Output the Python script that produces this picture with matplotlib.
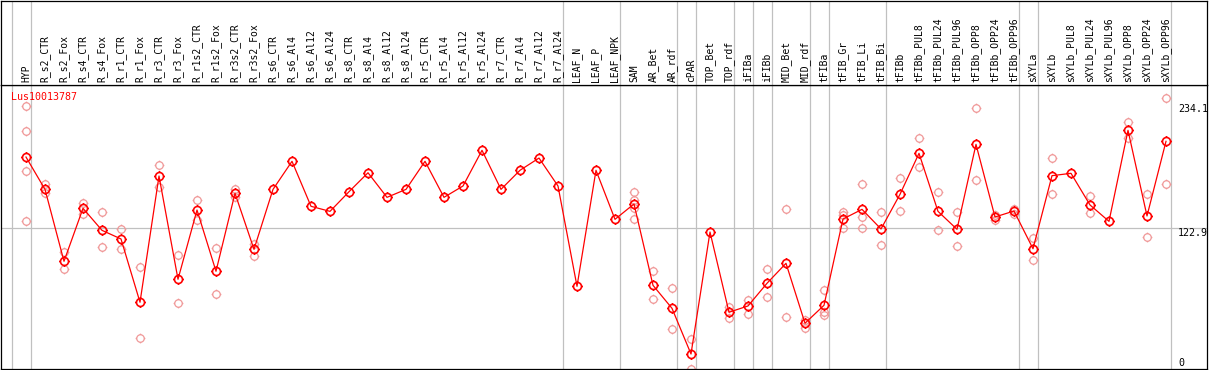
import numpy as np
import matplotlib
matplotlib.use("Agg")
import matplotlib.pyplot as plt
from matplotlib.path import Path
import matplotlib.transforms as mtransforms

samples = [
    "HYP", "R_s2_CTR", "R_s2_Fox", "R_s4_CTR", "R_s4_Fox", "R_r1_CTR", "R_r1_Fox",
    "R_r3_CTR", "R_r3_Fox", "R_r1s2_CTR", "R_r1s2_Fox", "R_r3s2_CTR", "R_r3s2_Fox",
    "R_s6_CTR", "R_s6_Al4", "R_s6_Al12", "R_s6_Al24", "R_s8_CTR", "R_s8_Al4",
    "R_s8_Al12", "R_s8_Al24", "R_r5_CTR", "R_r5_Al4", "R_r5_Al12", "R_r5_Al24",
    "R_r7_CTR", "R_r7_Al4", "R_r7_Al12", "R_r7_Al24", "LEAF_N", "LEAF_P", "LEAF_NPK",
    "SAM", "AR_Bet", "AR_rdf", "cPAR", "TOP_Bet", "TOP_rdf", "iFIBa", "iFIBb",
    "MID_Bet", "MID_rdf", "tFIBa", "tFIB_Gr", "tFIB_Li", "tFIB_Bi", "tFIBb",
    "tFIBb_PUL8", "tFIBb_PUL24", "tFIBb_PUL96", "tFIBb_OPP8", "tFIBb_OPP24",
    "tFIBb_OPP96", "sXYLa", "sXYLb", "sXYLb_PUL8", "sXYLb_PUL24", "sXYLb_PUL96",
    "sXYLb_OPP8", "sXYLb_OPP24", "sXYLb_OPP96",
]

# mean expression per sample
mean_values = [
    186.4, 157.6, 93.5, 140.7, 121.1, 113.4, 57.0, 169.5, 77.5, 139.2, 84.6,
    154.1, 104.2, 157.6, 182.6, 142.5, 138.0, 155.5, 172.4, 150.5, 157.6,
    182.6, 150.5, 160.6, 192.4, 157.6, 174.6, 185.5, 160.6, 71.2, 174.6, 130.9,
    144.6, 72.1, 51.6, 10.9, 119.6, 48.1, 53.7, 73.9, 91.7, 38.3, 54.3,
    131.2, 139.8, 122.3, 153.2, 189.7, 138.0, 122.0, 197.7, 133.0, 138.3,
    104.7, 169.8, 171.9, 143.7, 129.1, 210.2, 133.9, 200.4,
]

# individual replicates (empty where they sit under the mean)
replicates = [
    [231.6, 209.3, 173.7, 129.1], [162.1, 154.6], [102.1, 86.4], [145.4, 135.9],
    [137.4, 106.0], [122.0, 104.2], [88.4, 24.9], [179.3, 159.7], [98.8, 56.1],
    [147.8, 130.0], [105.3, 64.1], [157.6, 150.5], [109.2, 98.5],
    [], [], [], [], [], [], [], [], [], [], [], [], [], [], [], [], [], [], [],
    [155.0, 147.8, 140.7, 131.5], [84.6, 59.6], [69.7, 32.9], [24.5, -2.7], [],
    [53.1, 42.7], [59.0, 46.8], [86.6, 61.4], [139.8, 43.6], [41.2, 34.3],
    [67.9, 48.6, 45.7], [137.2, 134.8, 122.9], [162.1, 132.7, 123.4],
    [137.2, 107.8], [167.5, 138.3], [203.1, 177.3], [155.0, 121.1],
    [137.2, 106.9], [229.8, 165.7], [134.8, 130.3], [140.4, 135.9],
    [114.0, 94.4], [185.5, 153.2], [], [151.7, 136.3], [], [217.6, 203.1],
    [153.5, 114.9], [238.7, 162.4],
]

gene = "Lus10013787"
y_ticks = [234.1, 122.9, 0]
# group separators sit just right of these sample indices
separators = [-1, 0, 28, 31, 34, 35, 37, 38, 39, 41, 42, 45, 52, 53, 60]

W, H = 1209, 370
fig = plt.figure(figsize=(W / 100, H / 100), dpi=100)
ax = fig.add_axes([1 / W, 1 / H, 1206 / W, 284 / H])
hx = fig.add_axes([1 / W, 285 / H, 1206 / W, 84.5 / H], sharex=ax)

x = np.arange(len(samples))
ax.set_xlim((1 - 26) / 19, (1207 - 26) / 19)
ax.set_ylim(-2.47, 250.6)
hx.set_ylim(0, 1)

# circle with four little nubs
circ = Path.unit_circle()
nubs = Path([(0, 1), (0, 1.3), (0, -1), (0, -1.3), (1, 0), (1.3, 0), (-1, 0), (-1.3, 0)],
            [Path.MOVETO, Path.LINETO] * 4)
marker = Path.make_compound_path(circ, nubs)

for s in separators:
    for a in (ax, hx):
        a.axvline(s + 0.24, color="#c0c0c0", lw=0.9, zorder=0)
ax.axhline(122.9, color="#c0c0c0", lw=0.9, zorder=0)

for i, reps in enumerate(replicates):
    if reps:
        ax.plot([i] * len(reps), reps, linestyle="none", marker=marker, ms=7,
                mfc="none", mec="#f09898", mew=0.9, zorder=2, clip_on=True)

ax.plot(x, mean_values, color="red", lw=0.9, marker=marker, ms=7.5,
        mfc="none", mec="red", mew=1.2, zorder=3)

for i, name in enumerate(samples):
    hx.text(i, 0.03, name, rotation=90, ha="center", va="bottom",
            family="DejaVu Sans Mono", fontsize=7)

ax.text(9.5 / 1206, 1 - 7 / 284, gene, transform=ax.transAxes, color="red",
        family="DejaVu Sans Mono", fontsize=7.2, ha="left", va="top")

trans = mtransforms.blended_transform_factory(ax.transAxes, ax.transData)
for t in y_ticks:
    va = "baseline" if t == 0 else "top"
    ax.text(1177 / 1206, t, f"{t:g}", transform=trans, ha="left", va=va,
            family="DejaVu Sans Mono", fontsize=7.2, color="black")

for a in (ax, hx):
    a.set_xticks([])
    a.set_yticks([])
    for sp in a.spines.values():
        sp.set_linewidth(0.9)
        sp.set_color("black")

fig.savefig("out.png", dpi=100)
